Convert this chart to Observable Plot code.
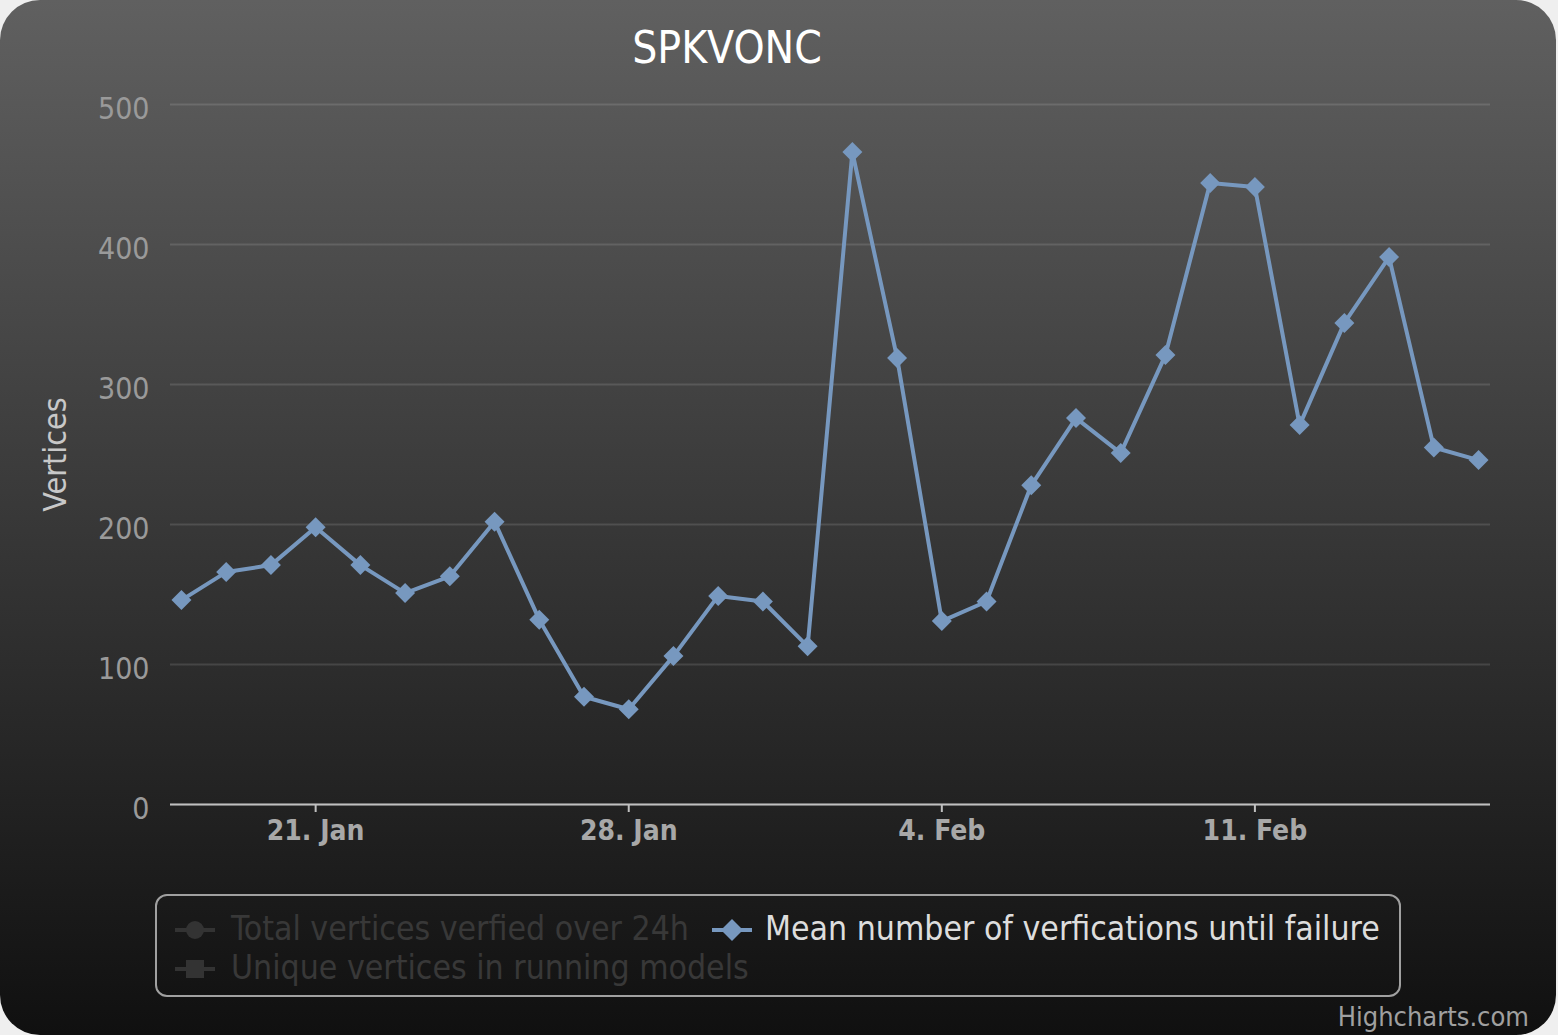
<!DOCTYPE html>
<html>
<head>
<meta charset="utf-8">
<script src="https://cdn.jsdelivr.net/npm/d3@7"></script>
<script src="https://cdn.jsdelivr.net/npm/@observablehq/plot@0.6"></script>
<style>
  html, body { margin: 0; padding: 0; background: #efefef; }
  #chart {
    position: relative; width: 1556px; height: 1035px; overflow: hidden;
    border-radius: 40px;
    background: linear-gradient(to bottom, #606060 0%, #101010 100%);
    font-family: "DejaVu Sans Condensed", "DejaVu Sans", sans-serif;
  }
  #title {
    position: absolute; left: 727px; top: 24px; transform: translateX(-50%);
    color: #ffffff; font-size: 44px; white-space: nowrap; line-height: 1.1;
  }
  #plot { position: absolute; left: 0; top: 0; }
  #legend {
    position: absolute; left: 155px; top: 894px; width: 1242px; height: 99px;
    border: 2px solid #a0a0a0; border-radius: 12px;
  }
  .item { position: absolute; font-size: 33.5px; white-space: nowrap; line-height: 1; }
  .item svg { position: absolute; }
  #credits {
    position: absolute; right: 27px; top: 1001px; color: #a0a0a0; font-size: 27px;
  }
</style>
</head>
<body>
<div id="chart">
  <div id="plot"></div>
  <div id="title"></div>
  <div id="legend"></div>
  <div id="credits">Highcharts.com</div>
</div>
<script>
const titleText = "SPKVONC";
const yTitle = "Vertices";
const dates = ["2013-01-18","2013-01-19","2013-01-20","2013-01-21","2013-01-22","2013-01-23","2013-01-24","2013-01-25","2013-01-26","2013-01-27",
               "2013-01-28","2013-01-29","2013-01-30","2013-01-31","2013-02-01","2013-02-02","2013-02-03","2013-02-04","2013-02-05","2013-02-06",
               "2013-02-07","2013-02-08","2013-02-09","2013-02-10","2013-02-11","2013-02-12","2013-02-13","2013-02-14","2013-02-15","2013-02-16"];
const meanValues = [146,166,171,198,171,151,163,202,132,77,
                    68,106,149,145,113,466,319,131,145,228,
                    276,251,321,444,441,271,344,391,255,246];
const tickDates = ["2013-01-21","2013-01-28","2013-02-04","2013-02-11"];
const tickLabels = ["21. Jan","28. Jan","4. Feb","11. Feb"];
const yTicks = [0,100,200,300,400,500];
const seriesNames = ["Total vertices verfied over 24h","Mean number of verfications until failure","Unique vertices in running models"];

document.getElementById("title").textContent = titleText;

const data = dates.map((d, i) => ({date: new Date(d), value: meanValues[i]}));
const tickDateObjs = tickDates.map(d => new Date(d));
const fmt = d => tickLabels[tickDateObjs.findIndex(t => +t === +d)];

const lineColor = "#7798BF";
const plot = Plot.plot({
  width: 1556,
  height: 880,
  marginLeft: 170,
  marginRight: 66,
  marginTop: 104,
  marginBottom: 76,
  style: {background: "transparent", fontFamily: "DejaVu Sans Condensed, DejaVu Sans, sans-serif", fontSize: "28px", color: "#999"},
  x: {type: "utc", domain: [new Date("2013-01-17T18:07Z"), new Date("2013-02-16T06:25Z")]},
  y: {domain: [0, 500]},
  marks: [
    Plot.gridY(yTicks, {stroke: "#ffffff", strokeOpacity: 0.12, strokeWidth: 2}),
    Plot.ruleY([0], {stroke: "#c0c0c0", strokeWidth: 2}),
    Plot.axisY(yTicks, {tickSize: 0, tickPadding: 21, label: null, fill: "#9a9a9a", dy: 5, fontSize: 30}),
    Plot.axisX(tickDateObjs, {tickSize: 8, tickPadding: 8, tickFormat: fmt, label: null, stroke: "#c0c0c0", strokeWidth: 2, fill: "#a8a8a8", fontWeight: "bold", fontSize: 28}),
    Plot.text([yTitle], {frameAnchor: "left", dx: -115, rotate: -90, textAnchor: "middle", fill: "#c8c8c8", fontSize: 32}),
    Plot.line(data, {x: "date", y: "value", stroke: lineColor, strokeWidth: 4}),
    Plot.dot(data, {x: "date", y: "value", symbol: "diamond2", r: 9, fill: lineColor, stroke: "none"})
  ]
});
document.getElementById("plot").appendChild(plot);

// Legend
const legend = document.getElementById("legend");
const items = [
  {name: seriesNames[0], x: 18, y: 16, color: "#333", text: "#383838", sym: "circle"},
  {name: seriesNames[1], x: 555, y: 16, color: lineColor, text: "#dddddd", sym: "diamond"},
  {name: seriesNames[2], x: 18, y: 55, color: "#333", text: "#383838", sym: "square"}
];
for (const it of items) {
  const div = document.createElement("div");
  div.className = "item";
  div.style.left = it.x + "px";
  div.style.top = it.y + "px";
  div.style.color = it.text;
  div.style.paddingLeft = it.sym === "diamond" ? "53px" : "56px";
  let m;
  if (it.sym === "circle") m = `<circle cx="20" cy="17" r="9" fill="${it.color}"/>`;
  else if (it.sym === "square") m = `<rect x="11" y="8" width="18" height="18" fill="${it.color}"/>`;
  else m = `<path d="M20 6 L31 17 L20 28 L9 17 Z" fill="${it.color}"/>`;
  div.innerHTML = `<svg width="42" height="34" style="left:0;top:1px"><line x1="0" x2="40" y1="17" y2="17" stroke="${it.color}" stroke-width="4"/>${m}</svg>${it.name}`;
  legend.appendChild(div);
}
</script>
</body>
</html>
